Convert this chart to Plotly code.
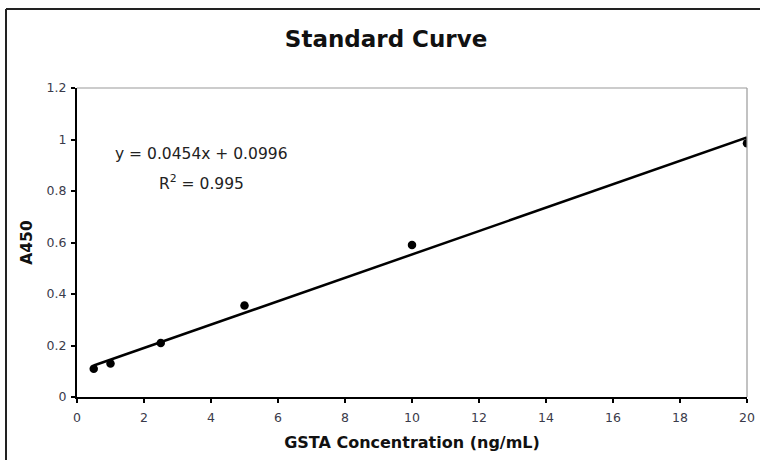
import plotly.graph_objects as go

# Data
conc = [0.5, 1, 2.5, 5, 10, 20]
a450 = [0.11, 0.13, 0.21, 0.355, 0.59, 0.985]

# Trendline equation shown on chart
slope = 0.0454
intercept = 0.0996
r2 = 0.995

x_ticks = [0, 2, 4, 6, 8, 10, 12, 14, 16, 18, 20]
y_ticks = [0, 0.2, 0.4, 0.6, 0.8, 1, 1.2]

trend_x = [min(conc), max(conc)]
trend_y = [slope * v + intercept for v in trend_x]

FONT = "DejaVu Sans, Verdana, sans-serif"

fig = go.Figure()
fig.add_trace(go.Scatter(
    x=trend_x, y=trend_y, mode="lines",
    line=dict(color="black", width=2.5), showlegend=False, hoverinfo="skip"))
fig.add_trace(go.Scatter(
    x=conc, y=a450, mode="markers",
    marker=dict(color="black", size=8.5), showlegend=False))

fig.add_annotation(
    x=3.73, y=0.942, xref="x", yref="y", yanchor="middle",
    text=f"y = {slope}x + {intercept}",
    showarrow=False, font=dict(family=FONT, size=15.5, color="#222"))
fig.add_annotation(
    x=3.73, y=0.834, xref="x", yref="y", yanchor="middle",
    text=f"R<sup>2</sup> = {r2}",
    showarrow=False, font=dict(family=FONT, size=15.5, color="#222"))

fig.update_layout(
    width=760, height=460, autosize=False,
    margin=dict(l=77, r=13, t=88, b=63),
    paper_bgcolor="white", plot_bgcolor="white",
    title=dict(text="<b>Standard Curve</b>", x=0.508, xanchor="center",
               y=1 - 39 / 460, yanchor="middle",
               font=dict(family=FONT, size=23, color="#111")),
    showlegend=False,
    xaxis=dict(range=[0, 20], tickvals=x_ticks, showgrid=False, zeroline=False,
               automargin=False,
               showline=True, linecolor="black", linewidth=2,
               ticks="outside", ticklen=4, tickwidth=1.5, tickcolor="black",
               ticklabelstandoff=4,
               tickfont=dict(family=FONT, size=12.5, color="#3a3a4a"),
               title=dict(text="<b>GSTA Concentration (ng/mL)</b>", standoff=13,
                          font=dict(family=FONT, size=16, color="#111"))),
    yaxis=dict(range=[0, 1.2], tickvals=y_ticks, showgrid=False, zeroline=False,
               automargin=False,
               showline=True, linecolor="black", linewidth=2,
               ticks="outside", ticklen=4, tickwidth=1.5, tickcolor="black",
               ticklabelstandoff=2,
               tickfont=dict(family=FONT, size=12.5, color="#3a3a4a"),
               title=dict(text="<b>A450</b>", standoff=10,
                          font=dict(family=FONT, size=15.5, color="#111"))),
)

# top and right gray frame of plot area
fig.add_shape(type="line", xref="paper", yref="paper", x0=0, x1=1, y0=1, y1=1,
              line=dict(color="#999", width=1.2))
fig.add_shape(type="line", xref="paper", yref="paper", x0=1, x1=1, y0=0, y1=1,
              line=dict(color="#999", width=1.2))

# outer chart border (left and top visible)
bx = (6 - 77) / 670
by = (397 - 9) / 309
fig.add_shape(type="line", xref="paper", yref="paper",
              x0=bx, x1=bx, y0=-0.3, y1=by,
              line=dict(color="#222", width=2))
fig.add_shape(type="line", xref="paper", yref="paper",
              x0=bx, x1=1.1, y0=by, y1=by,
              line=dict(color="#222", width=2))

fig.write_html("out.html", config={"displayModeBar": False},
               post_script="document.body.style.margin='0';")
